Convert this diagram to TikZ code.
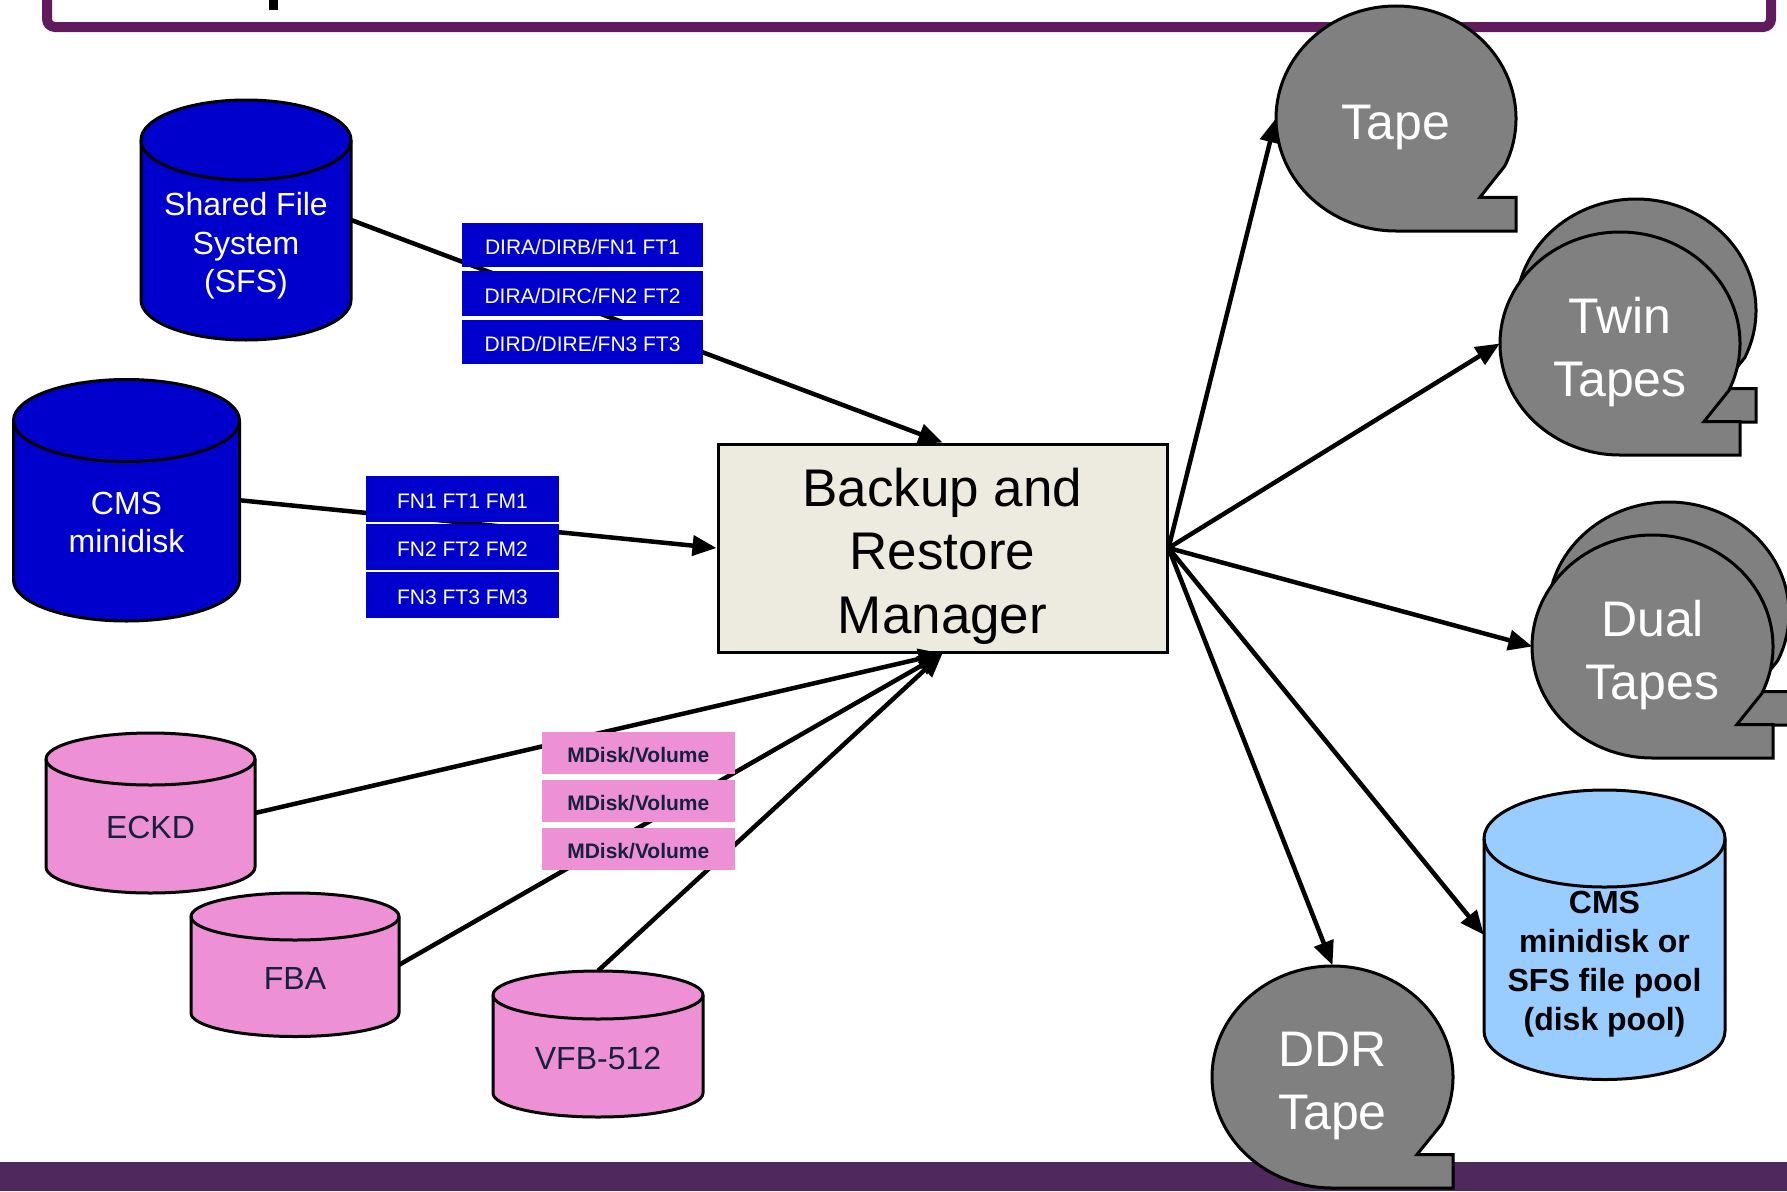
\documentclass[tikz,border=0pt]{standalone}
\usepackage{fontspec}
\setmainfont{Liberation Sans}
\usetikzlibrary{arrows.meta,shapes.geometric}
\definecolor{frameP}{HTML}{611A5D}
\definecolor{barP}{HTML}{4F285D}
\definecolor{dblue}{HTML}{0000CC}
\definecolor{pinkc}{HTML}{EE90D6}
\definecolor{navy}{HTML}{16213E}
\definecolor{lblue}{HTML}{99CCFF}
\definecolor{beige}{HTML}{EDEBE0}
\definecolor{tapeg}{HTML}{808080}
\newcommand\drum[7]{% name, cx, ytop, ybot, rx, ry, fill
  \filldraw[#7,draw=black,line width=3pt] (#2-#5,#3) -- (#2-#5,#4)
    arc[start angle=180,end angle=0,x radius=#5,y radius=#6] -- (#2+#5,#3)
    arc[start angle=0,end angle=-180,x radius=#5,y radius=#6] -- cycle;
  \draw[line width=3pt] (#2-#5,#3) arc[start angle=180,end angle=0,x radius=#5,y radius=#6];
  \node[inner sep=0pt,minimum width={2*#5},minimum height={#4-#3+2*#6}] (#1) at (#2,{(#3+#4)/2}) {};
}
\newcommand\tapeshp[4]{% cx, cy, rx, ry
  \filldraw[tapeline] (#1,#2+#4) arc[start angle=90,end angle=385,x radius=#3,y radius=#4]
    -- ({#1+0.7*#3},{#2+0.7*#4}) -- ({#1+#3},{#2+0.7*#4}) -- ({#1+#3},{#2+#4}) -- cycle;
}
\begin{document}
\begin{tikzpicture}[x=1pt,y=-1pt,
  tapeline/.style={fill=tapeg,draw=black,line width=3pt},
  tapenode/.style={ellipse,inner sep=0pt,minimum width=240pt,minimum height=223pt},
  tapetxt/.style={text=white,align=center,font=\fontsize{50}{63}\selectfont},
  conn/.style={line width=4.5pt,draw=black},
  arr/.style={conn,-{Triangle[length=24pt,width=20pt]}},
  lbl/.style={rectangle,inner sep=0pt,text height=19.5pt,text depth=0pt,font=\fontsize{21}{25}\selectfont},
  blbl/.style={lbl,fill=dblue,text=white,minimum height=44.5pt},
  plbl/.style={lbl,fill=pinkc,text=navy,minimum width=192.7pt,minimum height=42.3pt,font=\fontsize{21}{25}\selectfont\bfseries},
  cyltxt/.style={align=center,font=\fontsize{32}{38.5}\selectfont}]
\useasboundingbox (0,0) rectangle (1787,1191);
\clip (0,0) rectangle (1787,1191);
% frame and bar
\draw[frameP,line width=10pt,rounded corners=8pt] (47,-60) rectangle (1771,27);
\fill[black] (269,0) rectangle (278,10);
\fill[barP] (0,1162) rectangle (1787,1191);
% source cylinders
\drum{sfs}{246}{140}{300}{105}{40}{dblue}
\node[cyltxt,text=white] (sfst) at (246,246) {Shared File\\System\\(SFS)};
\drum{cms}{126.5}{420.5}{580}{113}{41}{dblue}
\node[cyltxt,text=white] (cmst) at (126.5,522.5) {CMS\\minidisk};
\drum{eckd}{150.5}{759}{867}{104.5}{26}{pinkc}
\node[cyltxt,text=navy] (eckdt) at (150.5,827) {ECKD};
\drum{fba}{295}{916.5}{1013}{104}{23.5}{pinkc}
\node[cyltxt,text=navy] (fbat) at (295,978) {FBA};
\drum{vfb}{598}{995}{1093}{105}{24}{pinkc}
\node[cyltxt,text=navy] (vfbt) at (598,1058) {VFB-512};
% target disk pool
\drum{pool}{1604.5}{838.5}{1031}{120.5}{48.5}{lblue}
\node[cyltxt,font=\fontsize{32}{39}\selectfont\bfseries] (poolt) at (1604.5,964.5) {CMS\\minidisk or\\SFS file pool\\(disk pool)};
% tapes
\tapeshp{1396}{118.5}{120}{112.5}
\node[tapenode] (tape) at (1396,118.5) {};
\node[tapetxt] (tapet) at (1396,127) {Tape};
\tapeshp{1636}{310.5}{120}{111.5}
\tapeshp{1620}{343.5}{120}{111.5}
\node[tapenode] (twin) at (1620,343.5) {};
\node[tapetxt] (twint) at (1620,352) {Twin\\Tapes};
\tapeshp{1668.5}{613.5}{120.5}{111.5}
\tapeshp{1652.5}{646.5}{120.5}{111.5}
\node[tapenode] (dual) at (1652.5,646.5) {};
\node[tapetxt] (dualt) at (1652.5,655) {Dual\\Tapes};
\tapeshp{1332.5}{1077}{120.5}{111}
\node[tapenode] (ddr) at (1332.5,1077) {};
\node[tapetxt] (ddrt) at (1332.5,1086) {DDR\\Tape};
% manager
\node[draw=black,line width=3pt,fill=beige,minimum width=449pt,minimum height=208pt,inner sep=0pt] (brm) at (942.5,548) {};
\node[align=center,font=\fontsize{53}{63.5}\selectfont] (brmt) at (942.5,556) {Backup and\\Restore\\Manager};
% connectors
\draw[arr] (sfs.east) -- (brm.north);
\draw[arr] (cms.east) -- (brm.west);
\draw[arr] (eckd.east) -- (brm.south);
\draw[arr] (fba.east) -- (brm.south);
\draw[arr] (vfb.north) -- (brm.south);
\draw[arr] (brm.east) -- (tape.west);
\draw[arr] (brm.east) -- (twin.west);
\draw[arr] (brm.east) -- (dual.west);
\draw[arr] (brm.east) -- (pool.west);
\draw[arr] (brm.east) -- (ddr.north);
% labels
\node[blbl,minimum width=241pt] (s1) at (582.5,245) {DIRA/DIRB/FN1 FT1};
\node[blbl,minimum width=241pt] (s2) at (582.5,293.3) {DIRA/DIRC/FN2 FT2};
\node[blbl,minimum width=241pt] (s3) at (582.5,342) {DIRD/DIRE/FN3 FT3};
\node[blbl,minimum width=193pt,minimum height=45.5pt] (c1) at (462.5,498.8) {FN1 FT1 FM1};
\node[blbl,minimum width=193pt,minimum height=45.5pt] (c2) at (462.5,546.8) {FN2 FT2 FM2};
\node[blbl,minimum width=193pt,minimum height=45.5pt] (c3) at (462.5,594.8) {FN3 FT3 FM3};
\node[plbl] (p1) at (638.3,753) {MDisk/Volume};
\node[plbl] (p2) at (638.3,801) {MDisk/Volume};
\node[plbl] (p3) at (638.3,849) {MDisk/Volume};
\end{tikzpicture}
\end{document}
